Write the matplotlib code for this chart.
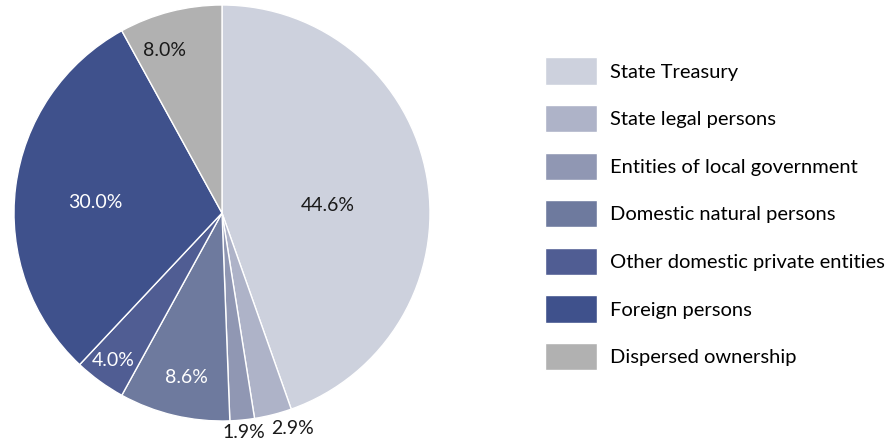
import numpy as np
import matplotlib.pyplot as plt

# Ownership structure, shares in percent
categories = ['State Treasury', 'State legal persons', 'Entities of local government',
              'Domestic natural persons', 'Other domestic private entities',
              'Foreign persons', 'Dispersed ownership']
shares = [44.6, 2.9, 1.9, 8.6, 4.0, 30.0, 8.0]

colors = ['#cdd1dd', '#aeb3c8', '#9097b3', '#6e7a9e', '#505d93', '#3f518c', '#b1b1b1']
label_colors = ['#1a1a1a', '#1a1a1a', '#1a1a1a', 'white', 'white', 'white', '#1a1a1a']
label_radius = [0.51, 1.09, 1.06, 0.81, 0.88, 0.61, 0.83]
label_shift = [-5.5, 4.0, 0, 1, -0.5, 2.5, 5]  # degrees, nudges a few labels off the mid angle

plt.rcParams['font.family'] = ['Lato', 'DejaVu Sans']

fig = plt.figure(figsize=(8.91, 4.44), dpi=100)
ax = fig.add_axes([14 / 891, 23 / 444, 416 / 891, 416 / 444])

wedges, _ = ax.pie(shares, colors=colors, startangle=90, counterclock=False,
                   radius=1.0, wedgeprops=dict(edgecolor='white', linewidth=1.0))
ax.set_xlim(-1, 1)
ax.set_ylim(-1, 1)
ax.set_aspect('equal')
ax.axis('off')

# percentage labels
start = 90.0
total = sum(shares)
for i, val in enumerate(shares):
    mid = start - 360.0 * (val / 2) / total
    start -= 360.0 * val / total
    ang = np.deg2rad(mid + label_shift[i])
    r = label_radius[i]
    ax.text(r * np.cos(ang), r * np.sin(ang), '{:.1f}%'.format(val),
            ha='center', va='center', fontsize=14, color=label_colors[i],
            clip_on=False)

fig.legend(wedges, categories, loc='upper left', bbox_to_anchor=(545 / 891, 1 - 57.5 / 444),
           frameon=False, fontsize=14.5, handlelength=2.6, handleheight=1.69,
           labelspacing=1.02, handletextpad=0.65, borderpad=0, borderaxespad=0)

fig.savefig('out.png', dpi=100)
